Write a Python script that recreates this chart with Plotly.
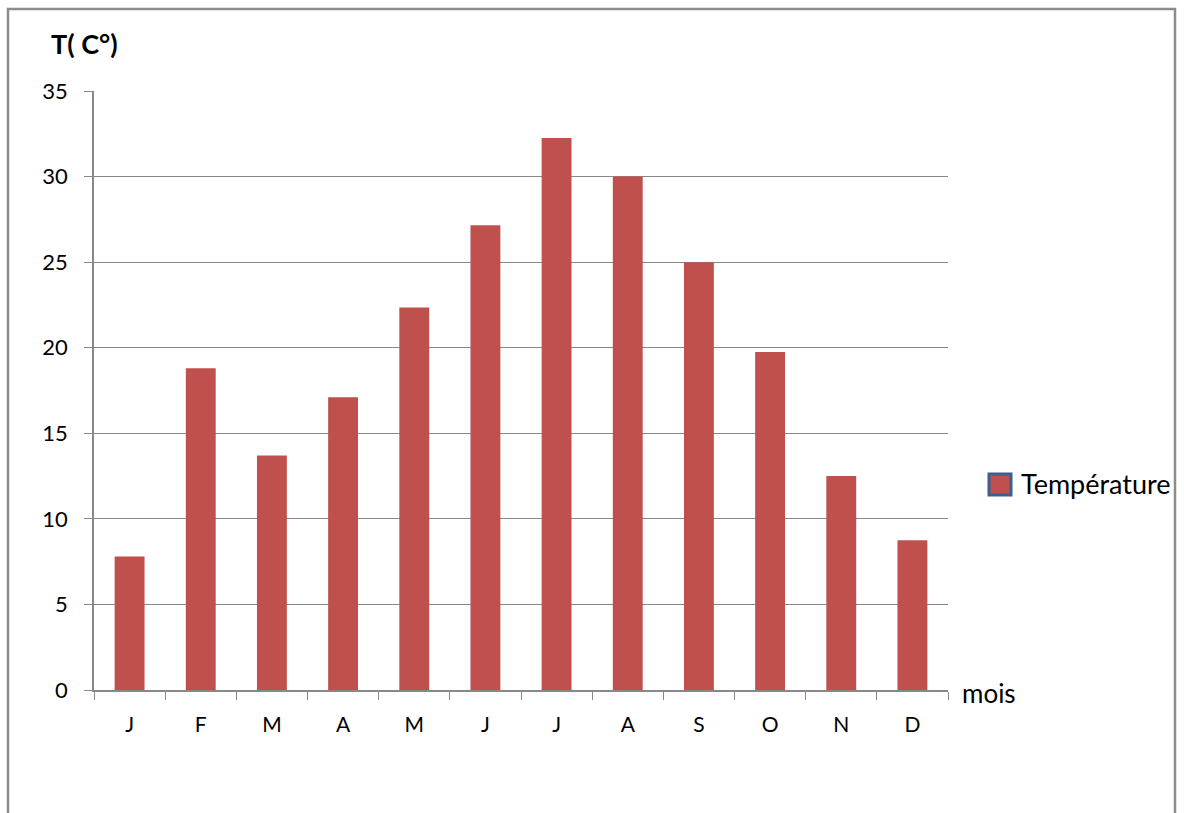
import plotly.graph_objects as go

# Monthly mean temperatures
months = ["J", "F", "M", "A", "M", "J", "J", "A", "S", "O", "N", "D"]
temperature = [7.8, 18.8, 13.7, 17.1, 22.35, 27.15, 32.25, 30.0, 25.0, 19.75, 12.5, 8.75]
y_ticks = [0, 5, 10, 15, 20, 25, 30, 35]
series_name = "Température"

# Duplicate month initials need unique category keys
x_keys = list(range(len(months)))

BAR = "#C0504D"
GRID = "#888888"
FONT = "Lato, Open Sans, sans-serif"

# Plot area in pixels (used to place paper-referenced decorations)
L, R, T, B = 94, 948, 91, 690
W, H = R - L, B - T


def px(x):
    return (x - L) / W


def py(y):
    return (B - y) / H


fig = go.Figure()
fig.add_trace(go.Bar(
    x=x_keys, y=temperature, name=series_name,
    marker=dict(color=BAR, line=dict(width=0)),
    showlegend=False, hoverinfo="y",
))

fig.update_layout(
    width=1184, height=813,
    margin=dict(l=L, r=1184 - R, t=T, b=813 - B),
    paper_bgcolor="white", plot_bgcolor="white",
    bargap=0.58,
    font=dict(family=FONT, color="black", size=21),
    xaxis=dict(
        type="category", tickmode="array", tickvals=x_keys, ticktext=months,
        tickson="boundaries", ticks="outside", ticklen=8, tickcolor=GRID,
        showline=True, linecolor=GRID, linewidth=1.5, showgrid=False,
        tickfont=dict(size=21), range=[-0.5, 11.5], ticklabelstandoff=15,
    ),
    yaxis=dict(
        range=[0, 35], tickmode="array", tickvals=y_ticks,
        ticks="outside", ticklen=8, tickcolor=GRID,
        showline=True, linecolor=GRID, linewidth=1.5,
        showgrid=True, gridcolor=GRID, gridwidth=1, zeroline=False,
        tickfont=dict(size=22), ticklabelstandoff=12,
    ),
    shapes=[
        # outer chart frame
        dict(type="rect", xref="paper", yref="paper",
             x0=px(8), x1=px(1175), y0=py(840), y1=py(9),
             line=dict(color="#8C8C8C", width=2.5), fillcolor="rgba(0,0,0,0)", layer="below"),
        # legend swatch
        dict(type="rect", xref="paper", yref="paper",
             x0=px(989), x1=px(1011), y0=py(495), y1=py(474),
             line=dict(color="#3A5F8F", width=3), fillcolor=BAR, layer="above"),
    ],
    annotations=[
        dict(text="<b>T( C°)</b>", xref="paper", yref="paper", x=px(49), y=py(43),
             xanchor="left", yanchor="middle", showarrow=False, font=dict(size=27, family=FONT)),
        dict(text="mois", xref="paper", yref="paper", x=px(960), y=py(693),
             xanchor="left", yanchor="middle", showarrow=False, font=dict(size=26, family=FONT)),
        dict(text=series_name, xref="paper", yref="paper", x=px(1019), y=py(483),
             xanchor="left", yanchor="middle", showarrow=False, font=dict(size=27, family=FONT)),
    ],
)

fig.write_html("out.html")
